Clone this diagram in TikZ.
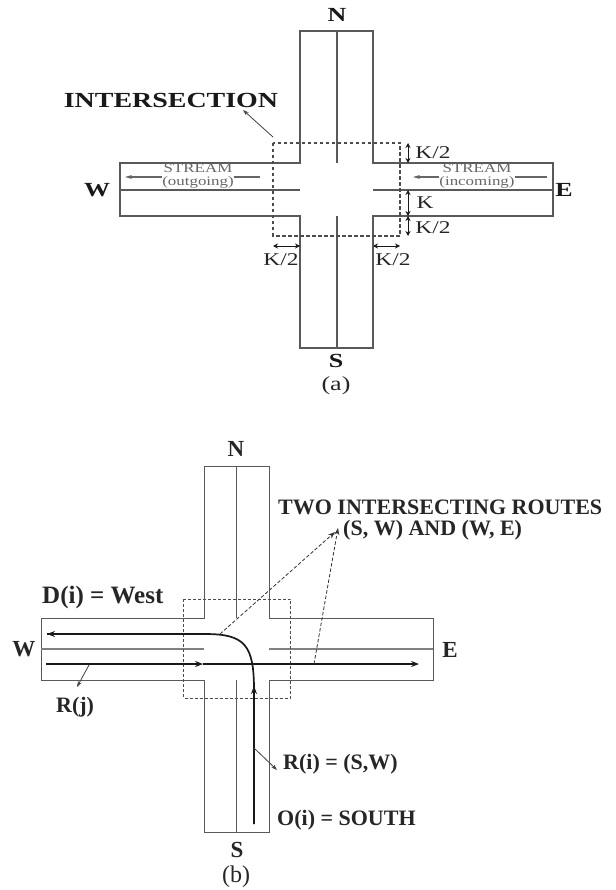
\documentclass[tikz,border=0pt]{standalone}
\usepackage{fontspec}
\setmainfont{Liberation Serif}
\newfontfamily\widefont[FakeStretch=1.3]{Liberation Serif}
\usetikzlibrary{arrows.meta}

\newcommand{\px}[1]{\fontsize{#1}{#1}\selectfont}

\begin{document}
\begin{tikzpicture}[x=1pt,y=-1pt,
  road/.style={draw=black!65,line width=1.2pt},
  zone/.style={draw=black!70,line width=1.2pt,dash pattern=on 3.5pt off 2.5pt},
  dimline/.style={black!90,line width=.9pt,{Stealth[length=5pt,width=5pt]}-{Stealth[length=5pt,width=5pt]}},
  flow/.style={black!60,line width=1.2pt},
  route/.style={black!90,line width=1.7pt},
  lead/.style={black!75,line width=.8pt,-{Stealth[length=6pt,width=4pt]}},
  routelink/.style={black!80,line width=.8pt,dash pattern=on 3.5pt off 2pt,-{Stealth[length=7pt,width=5pt]}},
  big/.style={font=\widefont\bfseries\px{20},text=black!90,inner sep=0pt},
  bigb/.style={font=\bfseries\px{23},text=black!85,inner sep=0pt},
  dimlabel/.style={font=\widefont\px{18},text=black!85,inner sep=0pt},
  streamlabel/.style={font=\widefont\px{13},text=black!60,inner sep=0pt},
  caption/.style={font=\px{24},text=black!85,inner sep=0pt},
  routelabel/.style={font=\bfseries\px{22},text=black!85,anchor=west,inner sep=0pt}]
\fill[white] (0,0) rectangle (615,890);
\useasboundingbox (0,0) rectangle (615,890);
% (a)
\draw[road] (300,31) -- (373,31) -- (373,163) -- (553,163) -- (553,216) -- (373,216) -- (373,348) -- (300,348) -- (300,216) -- (120,216) -- (120,163) -- (300,163) -- cycle;
\draw[road] (337,31) -- (337,163) (337,216) -- (337,348) (120,190) -- (300,190) (373,190) -- (553,190);
\draw[zone] (273,143) rectangle (400,236);
\coordinate (zonea) at (273,137);
\node[big,font=\widefont\bfseries\px{21.5}] (intersection) at (171,100) {INTERSECTION};
\coordinate (intersectiontip) at (243,110);
\draw[lead] (zonea) -- (intersectiontip);
\node[big] (na) at (337,15) {N};
\node[big] (wa) at (97,190) {W};
\node[big] (ea) at (564,190) {E};
\node[big] (sa) at (336,361) {S};
\node[caption,font=\widefont\px{20}] (capa) at (336,386) {(a)};
\node[streamlabel,align=center] (streamw) at (198,176.500) {STREAM\\(outgoing)};
\node[streamlabel,align=center] (streame) at (477,176.500) {STREAM\\(incoming)};
\draw[flow,-{Stealth[length=7pt,width=4pt]}] (streamw.west |- 0,177) -- (125,177);
\draw[flow] (streamw.east |- 0,177) -- (260,177);
\draw[flow,-{Stealth[length=7pt,width=4pt]}] (streame.west |- 0,177) -- (413,177);
\draw[flow] (streame.east |- 0,177) -- (547,177);
\draw[dimline] (408,143) -- (408,163);
\draw[dimline] (408,190) -- (408,216);
\draw[dimline] (408,216) -- (408,236);
\draw[dimline] (273,246) -- (300,246);
\draw[dimline] (373,246) -- (400,246);
\node[dimlabel] (kt) at (433,153) {K/2};
\node[dimlabel] (km) at (425,203) {K};
\node[dimlabel] (kb) at (433,228) {K/2};
\node[dimlabel] (kl) at (281,260) {K/2};
\node[dimlabel] (kr) at (393,260) {K/2};
% (b)
\draw[road,line width=1pt] (204,466) -- (269,466) -- (269,618) -- (433,618) -- (433,680) -- (269,680) -- (269,832) -- (204,832) -- (204,680) -- (41,680) -- (41,618) -- (204,618) -- cycle;
\draw[road,line width=.8pt] (236,466) -- (236,618) (236,680) -- (236,832);
\draw[road,draw=black!50,line width=1.2pt] (41,649) -- (204,649) (269,649) -- (433,649);
\draw[zone,line width=.7pt,dash pattern=on 3pt off 2pt] (183.500,599) rectangle (290.500,698);
\node[bigb] (nb) at (236,449) {N};
\node[bigb] (wb) at (24,649) {W};
\node[bigb] (eb) at (450,650) {E};
\node[bigb] (sb) at (237,850) {S};
\node[caption] (capb) at (236,877) {(b)};
\coordinate (startw) at (46,664);
\coordinate (endw) at (419,664);
\coordinate (starts) at (254,824);
\coordinate (ends) at (47,634);
\draw[route] (starts) -- (254,690) .. controls (254,645) and (245,634) .. (205,634) -- (ends);
\draw[route,-{Stealth[length=8pt,width=6pt]}] (205,634) -- (ends);
\draw[route,line width=1.3pt,-{Stealth[length=8pt,width=6pt]}] (starts) -- (254,686);
\draw[route,line width=1.3pt,-{Stealth[length=8pt,width=6pt]}] (startw) -- (203,664);
\draw[route,line width=1.3pt,-{Stealth[length=8pt,width=6pt]}] (203,664) -- (endw);
\node[routelabel] (tworoutes) at (278,507) {TWO INTERSECTING ROUTES};
\node[routelabel] (pairs) at (343,530) {(S, W) AND (W, E)};
\node[routelabel,font=\bfseries\px{25}] (dest) at (42,597) {D(i) = West};
\node[routelabel] (rj) at (56,707) {R(j)};
\node[routelabel] (ri) at (283,764) {R(i) = (S,W)};
\node[routelabel] (origin) at (277,820) {O(i) = SOUTH};
\coordinate (meetw) at (220,634);
\coordinate (meete) at (314,664);
\draw[routelink] (meetw) -- ([xshift=-8pt,yshift=-2pt]pairs.west);
\draw[routelink] (meete) -- ([xshift=-5pt,yshift=2pt]pairs.west);
\coordinate (rjfoot) at (89,665);
\coordinate (rifoot) at (254,748);
\draw[lead] (rjfoot) -- (77,687);
\draw[lead] (rifoot) -- ([xshift=-6pt,yshift=-6pt]ri.west);
\end{tikzpicture}
\end{document}
